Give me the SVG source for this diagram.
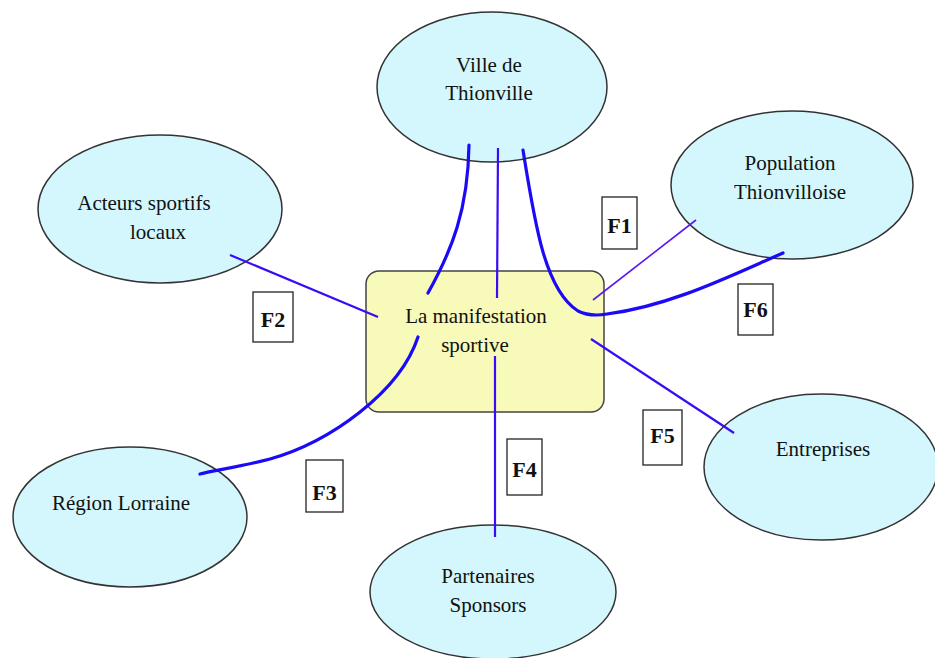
<svg xmlns="http://www.w3.org/2000/svg" width="935" height="658" viewBox="0 0 935 658">
<style>
.node{fill:#d3f7fc;stroke:#333;stroke-width:1.5}
.core{fill:#f7fab8;stroke:#444;stroke-width:1.5}
.t{font-family:"Liberation Serif","Times New Roman",serif;font-size:21px;fill:#111;text-anchor:middle}
.lab rect{fill:#fff;stroke:#222;stroke-width:1.3}
.lab text{font-family:"Liberation Serif","Times New Roman",serif;font-size:22px;font-weight:bold;fill:#111;text-anchor:middle}
.thick{fill:none;stroke:#1a0af5;stroke-width:3.2;stroke-linecap:round}
.mid{fill:none;stroke:#3a0cf5;stroke-width:2.2}
.thin{fill:none;stroke:#5a1aee;stroke-width:1.6}
</style>
<rect width="935" height="658" fill="#fff"/>
<g id="ville"><ellipse class="node" cx="492" cy="87" rx="115" ry="75"/><text class="t" x="489" y="72">Ville de</text><text class="t" x="489" y="100">Thionville</text></g>
<g id="population"><ellipse class="node" cx="792" cy="185" rx="121" ry="74"/><text class="t" x="790" y="170">Population</text><text class="t" x="790" y="199">Thionvilloise</text></g>
<g id="acteurs"><ellipse class="node" cx="160" cy="209" rx="122" ry="74"/><text class="t" x="144" y="210">Acteurs sportifs</text><text class="t" x="158" y="239">locaux</text></g>
<g id="region"><ellipse class="node" cx="130" cy="517" rx="117" ry="70"/><text class="t" x="121" y="510">Région Lorraine</text></g>
<g id="partenaires"><ellipse class="node" cx="493" cy="592" rx="123" ry="67"/><text class="t" x="488" y="583">Partenaires</text><text class="t" x="488" y="612">Sponsors</text></g>
<g id="entreprises"><ellipse class="node" cx="821" cy="467" rx="117" ry="73"/><text class="t" x="823" y="456">Entreprises</text></g>
<g id="manifestation"><rect class="core" x="366" y="271" width="238" height="141" rx="13"/><text class="t" x="476" y="323">La manifestation</text><text class="t" x="475" y="352">sportive</text></g>
<g id="connectors">
<path class="thick" d="M469,145 C468,210 452,250 428,293"/>
<path class="mid" d="M498,148 L497,298"/>
<path class="thick" d="M523,150 C535,225 545,290 578,311 Q590,317 607,314 C670,306 730,276 783,253"/>
<path class="thin" d="M593,300 L696,220"/>
<path class="mid" d="M230,255 L378,317"/>
<path class="thick" d="M418,337 C400,392 330,442 270,459 C240,467 215,470 200,474"/>
<path class="mid" d="M495,356 L495,537"/>
<path class="mid" d="M591,339 L734,433"/>
</g>
<g id="labels">
<g class="lab"><rect x="602" y="197" width="35" height="52"/><text x="619.5" y="233">F1</text></g>
<g class="lab"><rect x="253" y="292" width="40" height="50"/><text x="273" y="327">F2</text></g>
<g class="lab"><rect x="306" y="460" width="37" height="52"/><text x="324.5" y="500">F3</text></g>
<g class="lab"><rect x="507" y="439" width="35" height="56"/><text x="524.5" y="477">F4</text></g>
<g class="lab"><rect x="643" y="410" width="39" height="55"/><text x="662.5" y="443">F5</text></g>
<g class="lab"><rect x="738" y="284" width="35" height="51"/><text x="755.5" y="317">F6</text></g>
</g>
</svg>
